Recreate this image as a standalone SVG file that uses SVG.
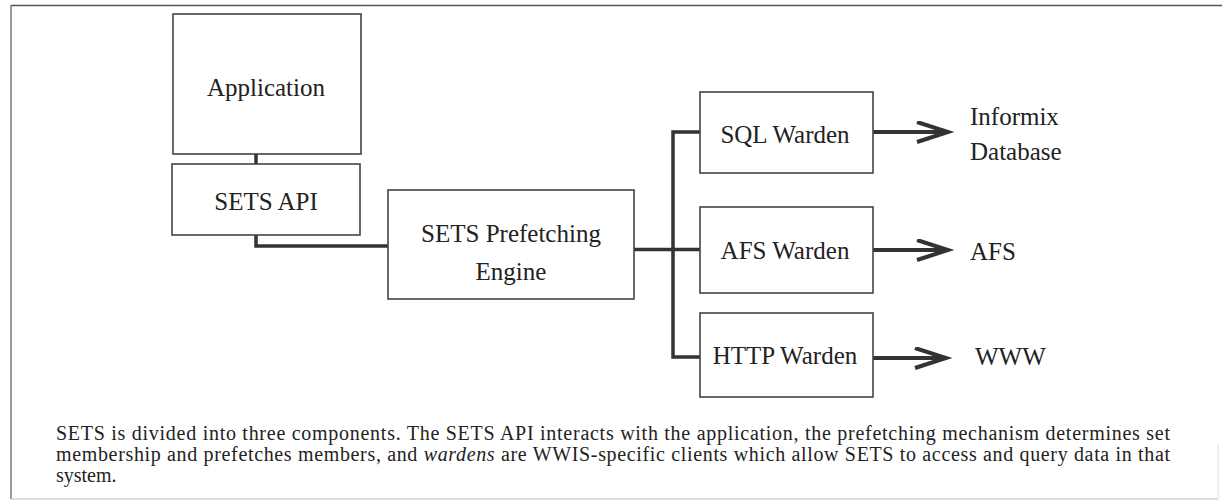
<svg xmlns="http://www.w3.org/2000/svg" width="1222" height="501" viewBox="0 0 1222 501">
<style>
.box{fill:#fff;stroke:#444;stroke-width:1.6}
.lbl{font-family:'Liberation Serif','DejaVu Serif','Times New Roman',serif;font-size:25px;fill:#222}
.cap{font-family:'Liberation Serif','DejaVu Serif','Times New Roman',serif;font-size:20px;fill:#222}
.con{fill:none;stroke:#333;stroke-width:3.5}
.arr{fill:none;stroke:#333;stroke-width:4}
</style>
<defs>
<marker id="head" markerUnits="userSpaceOnUse" markerWidth="40" markerHeight="30" refX="33" refY="11" orient="auto">
<path d="M2,1 L33,11 L2,21" fill="none" stroke="#333" stroke-width="4"/>
</marker>
</defs>
<g id="frame">
<line x1="11" y1="5.5" x2="1222" y2="5.5" stroke="#555" stroke-width="1.5"/>
<line x1="11" y1="5" x2="11" y2="499" stroke="#777" stroke-width="1.5"/>
<line x1="11" y1="499" x2="1218" y2="499" stroke="#bbb" stroke-width="1"/>
<line x1="1218" y1="445" x2="1218" y2="499" stroke="#ddd" stroke-width="1"/>
</g>
<g id="connectors">
<line class="con" x1="256" y1="154" x2="256" y2="164"/>
<polyline class="con" points="256,235 256,246 388,246"/>
<line class="con" x1="634" y1="249.5" x2="700" y2="249.5"/>
<polyline class="con" points="700,132 673,132 673,357 700,357"/>
<line class="arr" x1="873" y1="132" x2="948" y2="132" marker-end="url(#head)"/>
<line class="arr" x1="873" y1="250" x2="948" y2="250" marker-end="url(#head)"/>
<line class="arr" x1="873" y1="358" x2="946" y2="358" marker-end="url(#head)"/>
</g>
<g id="application">
<rect class="box" x="173" y="14" width="188" height="140"/>
<text class="lbl" font-family="Liberation Serif, serif" x="266" y="96" text-anchor="middle">Application</text>
</g>
<g id="sets-api">
<rect class="box" x="172" y="164" width="188" height="71"/>
<text class="lbl" x="266" y="210" text-anchor="middle">SETS API</text>
</g>
<g id="prefetching-engine">
<rect class="box" x="388" y="190" width="246" height="109"/>
<text class="lbl" x="511" y="242" text-anchor="middle">SETS Prefetching</text>
<text class="lbl" x="511" y="280" text-anchor="middle">Engine</text>
</g>
<g id="sql-warden">
<rect class="box" x="700" y="92" width="173" height="81"/>
<text class="lbl" x="785" y="143" text-anchor="middle">SQL Warden</text>
</g>
<g id="afs-warden">
<rect class="box" x="700" y="207" width="173" height="86"/>
<text class="lbl" x="785" y="259" text-anchor="middle">AFS Warden</text>
</g>
<g id="http-warden">
<rect class="box" x="700" y="313" width="173" height="84"/>
<text class="lbl" x="785" y="364" text-anchor="middle">HTTP Warden</text>
</g>
<g id="informix">
<text class="lbl" x="970" y="125">Informix</text>
<text class="lbl" x="970" y="160">Database</text>
</g>
<g id="afs">
<text class="lbl" x="970" y="260">AFS</text>
</g>
<g id="www">
<text class="lbl" x="975" y="365">WWW</text>
</g>
<g id="caption">
<text class="cap" x="56" y="440" textLength="1114" lengthAdjust="spacing">SETS is divided into three components.  The SETS API interacts with the application, the prefetching mechanism determines set</text>
<text class="cap" x="56" y="461" textLength="1114" lengthAdjust="spacing">membership and prefetches members, and <tspan font-style="italic">wardens</tspan> are WWIS-specific clients which allow SETS to access and query data in that</text>
<text class="cap" x="56" y="482">system.</text>
</g>
</svg>
